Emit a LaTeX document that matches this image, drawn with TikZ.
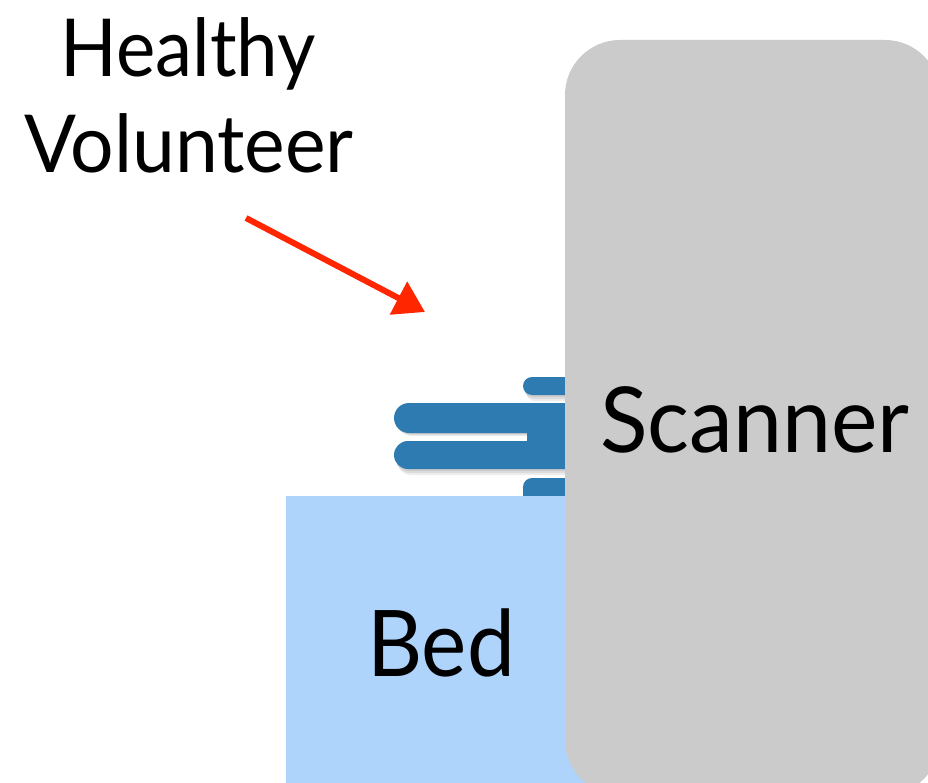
\documentclass[tikz,border=0pt]{standalone}
\usepackage{fontspec}
\setmainfont{Lato}
\usetikzlibrary{arrows.meta}
\definecolor{scangray}{HTML}{CBCBCB}
\definecolor{bedblue}{HTML}{AFD4FC}
\definecolor{volblue}{HTML}{2E7BB1}
\definecolor{arrred}{HTML}{FF2600}
\tikzset{
  lbl/.style={anchor=base, inner sep=0pt, text=black},
  bar/.style={fill=volblue},
  shadowbar/.style={fill=black, opacity=0.07},
  pointer/.style={draw=arrred, line width=6pt, -{Triangle[length=30pt,width=36pt]}},
}
\begin{document}
\begin{tikzpicture}[x=1pt,y=-1pt]
\useasboundingbox (0,0) rectangle (928,783);
\clip (0,0) rectangle (928,783);
% bed
\fill[bedblue] (286,496) rectangle (600,800);
% volunteer shadow
\foreach \d in {2,4,6}{
  \fill[shadowbar, rounded corners=15pt] (394+\d/2,403+\d) rectangle (600,433+\d/2);
  \fill[shadowbar, rounded corners=14pt] (394+\d/2,441+\d) rectangle (600,469+\d);
  \fill[shadowbar, rounded corners=9pt] (523+\d/2,377+\d) rectangle (600,395+\d);
}
% volunteer
\fill[bar, rounded corners=15pt] (394,403) rectangle (600,433);
\fill[bar, rounded corners=14pt] (394,441) rectangle (600,469);
\fill[bar] (527,420) rectangle (600,455);
\fill[bar, rounded corners=9pt] (523,377) rectangle (600,395);
\fill[bar, rounded corners=9pt] (523,478) rectangle (600,505);
\fill[bedblue] (500,496) rectangle (600,510);
% scanner
\fill[scangray, rounded corners=55pt] (565,40) rectangle (940,795);
% texts
\node[lbl, font=\fontsize{80}{96}\selectfont] (healthy) at (188,77) {\scalebox{0.93}[1]{Healthy}};
\node[lbl, font=\fontsize{80}{96}\selectfont] (volunteer) at (189,173) {\scalebox{0.96}[1]{Volunteer}};
\node[lbl, font=\fontsize{91}{100}\selectfont] (scanner) at (755,452) {\scalebox{0.965}[1]{Scanner}};
\node[lbl, font=\fontsize{92}{100}\selectfont] (bed) at (441,676) {\scalebox{0.93}[1]{Bed}};
% arrow
\coordinate (atail) at (246,218);
\coordinate (ahead) at (425,312);
\draw[pointer] (atail) -- (ahead);
\end{tikzpicture}
\end{document}
